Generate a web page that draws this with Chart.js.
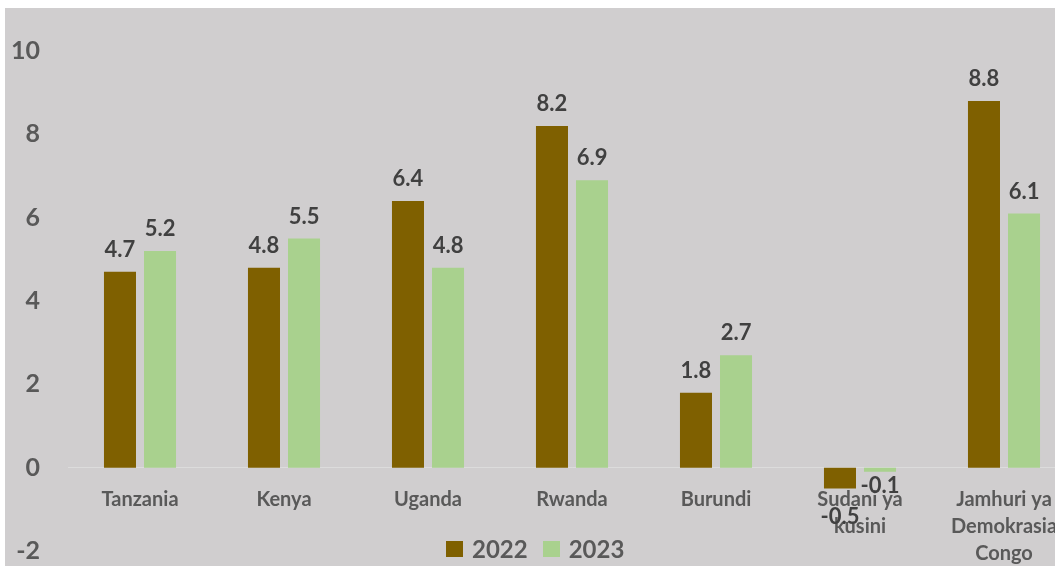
<!DOCTYPE html>
<html>
<head>
<meta charset="utf-8">
<script src="https://cdn.jsdelivr.net/npm/chart.js@4.4.1/dist/chart.umd.min.js"></script>
<style>
  html, body { margin: 0; padding: 0; background: #ffffff; overflow: hidden; }
  #bg { position: absolute; left: 5px; top: 8px; width: 1100px; height: 600px; background: #d0cecf; }
  #wrap { position: absolute; left: 0; top: 0; width: 1080px; height: 594px; }
  #legend { position: absolute; left: 446px; top: 534px; display: flex; align-items: center;
            font: bold 24px Lato, sans-serif; color: #595959; }
  #legend .box { width: 17px; height: 16px; margin-right: 9px; }
  #legend .item { display: flex; align-items: center; margin-right: 15px; }
</style>
</head>
<body>
<div id="bg"></div>
<div id="wrap"><canvas id="chart" width="1080" height="594"></canvas></div>
<div id="legend"></div>
<script>
const categories = ["Tanzania", "Kenya", "Uganda", "Rwanda", "Burundi", ["Sudani ya", "kusini"], ["Jamhuri ya", "Demokrasia", "Congo"]];
const seriesNames = ["2022", "2023"];
const values2022 = [4.7, 4.8, 6.4, 8.2, 1.8, -0.5, 8.8];
const values2023 = [5.2, 5.5, 4.8, 6.9, 2.7, -0.1, 6.1];
const yTicks = [-2, 0, 2, 4, 6, 8, 10];

const colors = ["#7f6000", "#a9d18e"];

// value labels above (or below) each bar
const barLabels = {
  id: "barLabels",
  afterDatasetsDraw(chart) {
    const ctx = chart.ctx;
    ctx.save();
    ctx.font = "bold 22px Lato, sans-serif";
    ctx.fillStyle = "#404040";
    ctx.textAlign = "center";
    ctx.textBaseline = "alphabetic";
    chart.data.datasets.forEach((ds, i) => {
      chart.getDatasetMeta(i).data.forEach((bar, j) => {
        const v = ds.data[j];
        const txt = v.toFixed(1);
        if (v >= 0) ctx.fillText(txt, bar.x, bar.y - 15);
        else ctx.fillText(txt, bar.x, bar.y + ds.negLabelGap);
      });
    });
    ctx.restore();
  }
};

const ctx = document.getElementById("chart").getContext("2d");
new Chart(ctx, {
  type: "bar",
  data: {
    labels: categories,
    datasets: [
      { label: seriesNames[0], data: values2022, backgroundColor: colors[0], negLabelGap: 35 },
      { label: seriesNames[1], data: values2023, backgroundColor: colors[1], negLabelGap: 21 },
    ],
  },
  options: {
    responsive: false,
    animation: false,
    layout: { padding: { top: 51, bottom: 16, left: 0, right: 4 } },
    datasets: { bar: { categoryPercentage: 0.556, barPercentage: 0.8 } },
    plugins: {
      legend: { display: false },
      tooltip: { enabled: false },
    },
    scales: {
      x: {
        type: "category",
        axis: "x",
        position: { y: 0 },
        afterFit(scale) { scale.height = 0; },
        grid: { display: false, drawTicks: false },
        border: { display: true, color: "#dcdcdc", width: 1 },
        ticks: {
          color: "#595959",
          font: { family: "Lato, sans-serif", size: 20, weight: "bold", lineHeight: 1.33 },
          padding: 19,
          maxRotation: 0,
          autoSkip: false,
        },
      },
      y: {
        min: yTicks[0],
        max: yTicks[yTicks.length - 1],
        grid: { display: false, drawTicks: false },
        border: { display: false },
        afterFit(scale) { scale.width = 68; },
        afterBuildTicks(scale) { scale.ticks = yTicks.map(v => ({ value: v })); },
        ticks: {
          color: "#595959",
          font: { family: "Lato, sans-serif", size: 25, weight: "bold" },
          padding: 28,
        },
      },
    },
  },
  plugins: [barLabels],
});

// legend
const legend = document.getElementById("legend");
seriesNames.forEach((name, i) => {
  const item = document.createElement("div");
  item.className = "item";
  const box = document.createElement("div");
  box.className = "box";
  box.style.background = colors[i];
  const txt = document.createElement("span");
  txt.textContent = name;
  item.appendChild(box);
  item.appendChild(txt);
  legend.appendChild(item);
});
</script>
</body>
</html>
